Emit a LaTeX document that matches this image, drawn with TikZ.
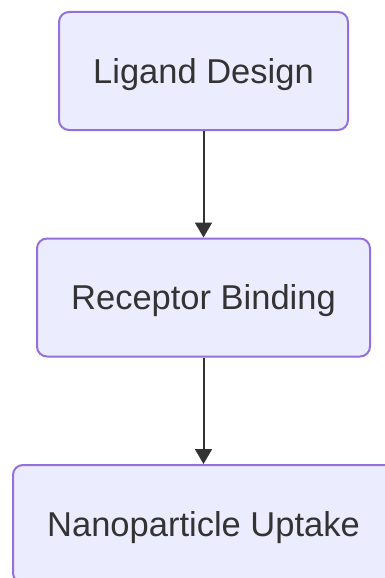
\documentclass[tikz,border=0pt]{standalone}
\usepackage{fontspec}
\setmainfont{Liberation Sans}
\usetikzlibrary{arrows.meta}
\definecolor{boxfill}{HTML}{ECECFF}
\definecolor{boxdraw}{HTML}{9370DB}
\definecolor{txt}{HTML}{333333}
\tikzset{
  flowbox/.style={draw=boxdraw, fill=boxfill, line width=2pt, rounded corners=10pt,
    text=txt, font=\fontsize{34.5}{40}\selectfont, inner sep=0pt, anchor=north,
    text height=24.7pt, text depth=0pt},
  flowarrow/.style={draw=txt, line width=2pt, -{Triangle[width=17pt,length=15pt]}}
}
\begin{document}
\begin{tikzpicture}[x=1pt,y=1pt]
\useasboundingbox (0,0) rectangle (385,-578);
\clip (0,0) rectangle (385,-578);
\fill[white] (0,0) rectangle (385,-578);
\node[flowbox, minimum width=289pt, minimum height=118pt] (a) at (203.5,-11) {Ligand Design};
\node[flowbox, minimum width=333pt, minimum height=118pt] (b) at (203.5,-237.5) {Receptor Binding};
\node[flowbox, minimum width=381pt, minimum height=118pt] (c) at (203.5,-464) {Nanoparticle Uptake};
\draw[flowarrow] (a.south) -- (b.north);
\draw[flowarrow] (b.south) -- (c.north);
\end{tikzpicture}
\end{document}
